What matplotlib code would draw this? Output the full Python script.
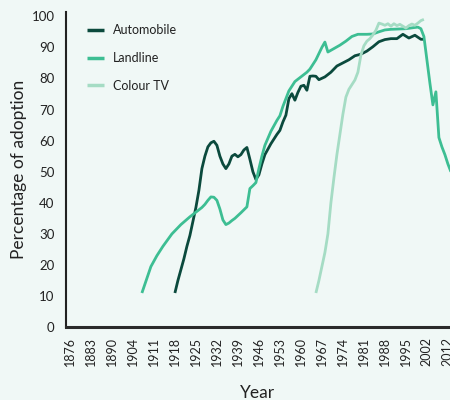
import matplotlib
matplotlib.use("Agg")
import matplotlib.pyplot as plt

# ---- categories on the x axis (years present in the data set) ----
categories = (list(range(1876, 1891)) + [1892, 1894, 1896, 1898, 1900, 1902]
              + list(range(1904, 2003)) + [2004, 2005, 2006, 2008, 2009, 2010, 2012, 2013])
tick_years = categories[::7]

# ---- series ----
auto_years = [1918, 1919, 1920, 1921, 1922, 1923, 1924, 1925, 1926, 1927, 1928, 1929, 1930,
              1931, 1932, 1933, 1934, 1935, 1936, 1937, 1938, 1939, 1940, 1941, 1942, 1943,
              1944, 1945, 1946, 1947, 1948, 1950, 1952, 1953, 1954, 1955, 1956, 1957, 1958,
              1959, 1960, 1961, 1962, 1963, 1964, 1965, 1966, 1968, 1970, 1972, 1974, 1976,
              1978, 1980, 1982, 1984, 1986, 1988, 1990, 1992, 1994, 1996, 1998, 2000, 2001]
auto_vals = [11, 15, 18.5, 22, 26, 29.5, 34, 38.5, 44, 51, 55, 58, 59.3,
             59.8, 58.5, 55, 52.5, 51, 52.5, 55, 55.6, 54.8, 55.5, 57, 57.8, 54,
             50, 47.5, 49, 52.5, 55.5, 59, 62, 63.3, 66, 68.2, 73.5, 75.1, 73,
             75.5, 77.5, 77.8, 76.2, 80.7, 80.8, 80.7, 79.6, 80.5, 82, 84, 85, 86,
             87.3, 87.8, 88.8, 90.2, 91.8, 92.5, 92.8, 92.8, 94.2, 93, 93.9, 92.6, 92.6]

land_years = [1907, 1910, 1912, 1914, 1917, 1920, 1923, 1925, 1927, 1928, 1929, 1930, 1931,
              1932, 1933, 1934, 1935, 1936, 1937, 1938, 1940, 1942, 1943, 1944, 1945, 1946,
              1947, 1948, 1950, 1952, 1953, 1954, 1956, 1958, 1960, 1962, 1963, 1965, 1967,
              1968, 1969, 1971, 1973, 1975, 1977, 1979, 1982, 1984, 1986, 1988, 1990, 1995,
              1998, 1999, 2000, 2001, 2002, 2004, 2005, 2006, 2008, 2009, 2010, 2012, 2013]
land_vals = [11, 19.5, 23, 26, 30, 33, 35.5, 37, 38.5, 39.5, 40.8, 41.9, 41.8,
             40.8, 38, 34.5, 33, 33.5, 34.3, 35, 36.8, 38.7, 44.6, 45.5, 46.5, 51,
             55, 58.5, 63, 66.5, 68, 71, 76, 79, 80.5, 82, 83, 86, 90,
             91.7, 88.5, 89.6, 90.7, 92, 93.5, 94.2, 94.2, 94.3, 95, 95.6, 95.8, 96,
             96.4, 96.5, 96, 93.5, 86, 78.5, 71.5, 75.7, 61, 58, 55.5, 52.5, 50]

tv_years = [1965, 1966, 1967, 1968, 1969, 1970, 1971, 1972, 1973, 1974, 1975, 1976, 1977,
            1978, 1979, 1980, 1981, 1982, 1983, 1984, 1985, 1986, 1987, 1988, 1989, 1990,
            1991, 1992, 1993, 1994, 1995, 1996, 1997, 1998, 1999, 2000, 2001]
tv_vals = [11, 15, 19.5, 24, 30, 40, 48, 55.5, 62, 68.5, 74, 76.5, 78,
           79.5, 82, 87.5, 90.5, 92, 92.8, 94, 95.5, 97.8, 97.5, 97.1, 97.6, 96.8,
           97.6, 97, 97.4, 96.8, 96.2, 97, 97.5, 97.1, 97.8, 98.6, 99]

series = [("Automobile", auto_years, auto_vals, "#0b4a3d"),
          ("Landline", land_years, land_vals, "#3dbe93"),
          ("Colour TV", tv_years, tv_vals, "#a5dcc4")]

bg = "#f0f8f6"
plt.rcParams['font.family'] = ['Lato', 'DejaVu Sans']

fig = plt.figure(figsize=(4.5, 4.0), dpi=100, facecolor=bg)
ax = fig.add_axes([0.146, 0.182, 0.854, 0.789], facecolor=bg)

pos = {y: i for i, y in enumerate(categories)}
for name, ys, vs, c in series:
    ax.plot([pos[y] for y in ys], vs, color=c, lw=2.0, label=name,
            solid_joinstyle='round', solid_capstyle='butt')

ax.set_xlim(-1.4, 126.7)
ax.set_ylim(0, 101.5)
ax.set_xticks([pos[y] for y in tick_years])
ax.set_xticklabels([str(y) for y in tick_years], rotation=90, fontsize=9, color="#222222")
ax.set_yticks(range(0, 101, 10))
ax.set_yticklabels([str(v) for v in range(0, 101, 10)], fontsize=9.5, color="#222222")
ax.tick_params(axis='both', length=0)
ax.tick_params(axis='y', pad=8)
ax.tick_params(axis='x', pad=7)

for s in ['top', 'right']:
    ax.spines[s].set_visible(False)
ax.spines['left'].set_color("#222222")
ax.spines['left'].set_linewidth(1.5)
ax.spines['bottom'].set_color("#2a2a2a")
ax.spines['bottom'].set_linewidth(2.2)

ax.set_ylabel("Percentage of adoption", fontsize=12.5, color="#222222", labelpad=3)
ax.set_xlabel("Year", fontsize=12.5, color="#222222", labelpad=14)

leg = ax.legend(loc='upper left', bbox_to_anchor=(0.025, 0.995), frameon=False,
                fontsize=9, handlelength=1.4, handletextpad=0.7, labelspacing=1.25,
                labelcolor="#222222")
for line in leg.get_lines():
    line.set_linewidth(2.5)

fig.savefig("out.png", dpi=100, facecolor=bg)
